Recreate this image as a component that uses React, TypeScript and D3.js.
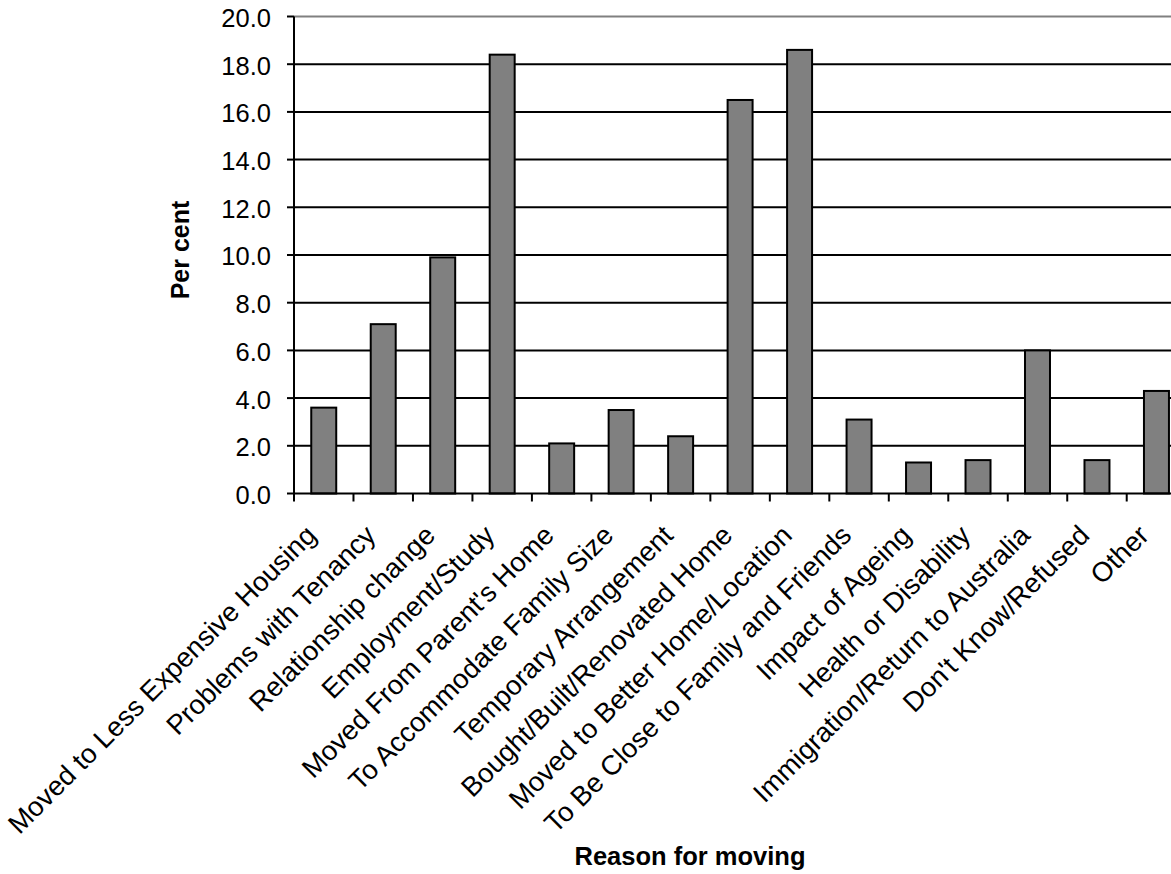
import React from "react";
import * as d3 from "d3";

const categories = [
  "Moved to Less Expensive Housing",
  "Problems with Tenancy",
  "Relationship change",
  "Employment/Study",
  "Moved From Parent's Home",
  "To Accommodate Family Size",
  "Temporary Arrangement",
  "Bought/Built/Renovated Home",
  "Moved to Better Home/Location",
  "To Be Close to Family and Friends",
  "Impact of Ageing",
  "Health or Disability",
  "Immigration/Return to Australia",
  "Don't Know/Refused",
  "Other",
];

const values = [3.6, 7.1, 9.9, 18.4, 2.1, 3.5, 2.4, 16.5, 18.6, 3.1, 1.3, 1.4, 6.0, 1.4, 4.3];

const yTicks = [0, 2, 4, 6, 8, 10, 12, 14, 16, 18, 20];

const W = 1171;
const H = 874;
const left = 294;
const step = 59.48;
const top = 16.5;
const bottom = 493.5;
const font = "'Liberation Sans', Arial, sans-serif";

export default function App() {
  const band = d3
    .scaleBand<string>()
    .domain(categories)
    .range([left, left + step * categories.length]);
  const x = band.copy().paddingInner(0.58).paddingOuter(0.29);
  const y = d3.scaleLinear().domain([0, 20]).range([bottom, top]);

  return (
    <svg
      width={W}
      height={H}
      style={{ position: "absolute", left: 0, top: 0, background: "#fff" }}
      fontFamily={font}
    >
      {/* horizontal gridlines */}
      {yTicks.slice(1).map((t) => (
        <line
          key={"g" + t}
          x1={left}
          x2={W}
          y1={y(t)}
          y2={y(t)}
          stroke={t === 20 ? "#808080" : "#000"}
          strokeWidth={2}
        />
      ))}
      {/* bars */}
      {categories.map((c, i) => (
        <rect
          key={c}
          x={x(c)}
          y={y(values[i])}
          width={x.bandwidth()}
          height={bottom - y(values[i])}
          fill="#808080"
          stroke="#000"
          strokeWidth={2}
        />
      ))}
      {/* value axis */}
      <line x1={left} x2={left} y1={top} y2={bottom} stroke="#000" strokeWidth={2} />
      {yTicks.map((t) => (
        <g key={"t" + t}>
          <line x1={left - 7} x2={left} y1={y(t)} y2={y(t)} stroke="#000" strokeWidth={2} />
          <text x={271} y={y(t)} dy="0.41em" textAnchor="end" fontSize={25.5}>
            {t.toFixed(1)}
          </text>
        </g>
      ))}
      {/* category axis */}
      <line x1={left} x2={W} y1={bottom} y2={bottom} stroke="#000" strokeWidth={2} />
      {d3.range(categories.length + 1).map((i) => (
        <line
          key={"xt" + i}
          x1={left + i * step}
          x2={left + i * step}
          y1={bottom}
          y2={bottom + 8}
          stroke="#000"
          strokeWidth={2}
        />
      ))}
      {categories.map((c) => {
        const cx = (band(c) as number) + band.bandwidth() / 2 - 20;
        const cy = 523;
        return (
          <text
            key={"l" + c}
            transform={`translate(${cx},${cy}) rotate(-45)`}
            textAnchor="end"
            dy="0.72em"
            fontSize={27.5}
          >
            {c}
          </text>
        );
      })}
      <text
        transform={`translate(189,250) rotate(-90)`}
        textAnchor="middle"
        fontSize={25}
        fontWeight="bold"
      >
        Per cent
      </text>
      <text x={690} y={865} textAnchor="middle" fontSize={25.5} fontWeight="bold">
        Reason for moving
      </text>
    </svg>
  );
}
